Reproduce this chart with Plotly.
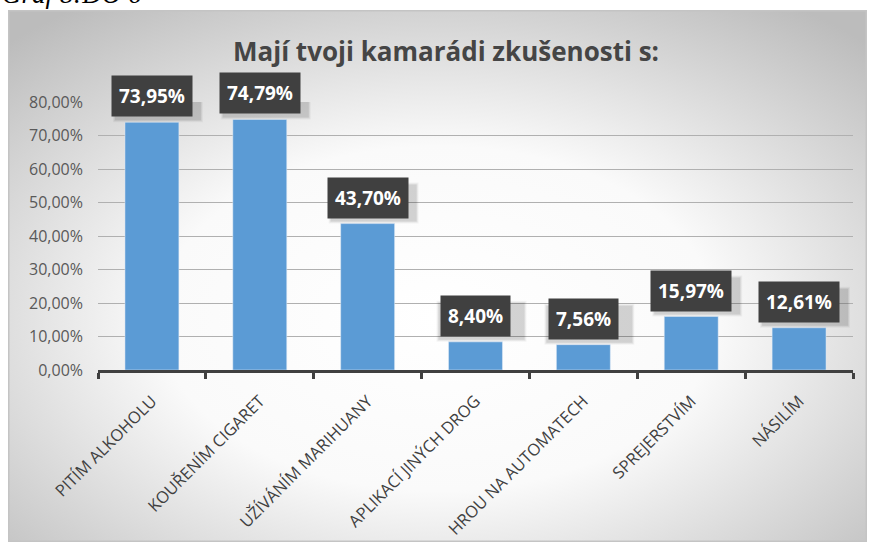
import base64
import plotly.graph_objects as go

categories = ["PITÍM ALKOHOLU", "KOUŘENÍM CIGARET", "UŽÍVÁNÍM MARIHUANY",
              "APLIKACÍ JINÝCH DROG", "HROU NA AUTOMATECH", "SPREJERSTVÍM", "NÁSILÍM"]
values = [0.7395, 0.7479, 0.4370, 0.0840, 0.0756, 0.1597, 0.1261]
labels = ["73,95%", "74,79%", "43,70%", "8,40%", "7,56%", "15,97%", "12,61%"]
y_ticks = [0, 0.1, 0.2, 0.3, 0.4, 0.5, 0.6, 0.7, 0.8]

W, H = 871, 542
L, R, T, B = 98, 18, 102, 172
pw, ph = W - L - R, H - T - B

def px_x(p):
    return (p - L) / pw

def px_y(p):
    return (H - B - p) / ph

svg = """<svg xmlns='http://www.w3.org/2000/svg' width='859' height='532' viewBox='0 0 859 532' preserveAspectRatio='none'>
<defs><radialGradient id='g' cx='50%' cy='58%' r='72%' fx='50%' fy='58%'>
<stop offset='0' stop-color='#ffffff'/><stop offset='0.45' stop-color='#fafafa'/>
<stop offset='1' stop-color='#bcbcbc'/></radialGradient></defs>
<rect x='0' y='0' width='859' height='532' fill='url(#g)' stroke='#c4c4c4' stroke-width='3'/>
</svg>"""
src = "data:image/svg+xml;base64," + base64.b64encode(svg.encode()).decode()

fig = go.Figure()
fig.add_trace(go.Bar(x=categories, y=values, marker_color="#5b9bd5", width=0.5,
                     hoverinfo="skip"))

annotations = []
shapes = []
for c, v, t in zip(categories, values, labels):
    # soft shadow behind the label box
    for k, a in ((0, 0.08), (1, 0.06), (2, 0.04)):
        shapes.append(dict(type="rect", xref="x", yref="y",
                           xsizemode="pixel", ysizemode="pixel",
                           xanchor=c, yanchor=v,
                           x0=-40 + 3 - k, x1=46 + 3 + k, y0=5 - 3 - k, y1=42 - 3 + k,
                           fillcolor="rgba(0,0,0,%.2f)" % a, line=dict(width=0),
                           layer="above"))
    annotations.append(dict(x=c, y=v, xref="x", yref="y", text="<b>" + t + "</b>",
                            showarrow=False, yanchor="bottom", yshift=5,
                            font=dict(family="Open Sans", size=19, color="white"),
                            bgcolor="#404040", borderpad=7))

annotations.append(dict(xref="paper", yref="paper", x=px_x(0), y=px_y(11),
                        xanchor="left", yanchor="bottom", showarrow=False,
                        text="<i>Graf 8:DO 6</i>",
                        font=dict(family="Liberation Serif", size=27, color="#000000")))

fig.update_layout(
    width=W, height=H,
    margin=dict(l=L, r=R, t=T, b=B),
    paper_bgcolor="white",
    plot_bgcolor="rgba(0,0,0,0)",
    separators=", ",
    showlegend=False,
    title=dict(text="<b>Mají tvoji kamarádi zkušenosti s:</b>",
               x=446 / W, xref="container", xanchor="center",
               y=1 - 52 / H, yref="container", yanchor="middle",
               font=dict(family="Open Sans", size=26, color="#454545")),
    images=[dict(source=src, xref="paper", yref="paper",
                 x=px_x(8), y=px_y(10), sizex=(867 - 8) / pw, sizey=(542 - 10) / ph,
                 xanchor="left", yanchor="top", sizing="stretch", layer="below")],
    annotations=annotations,
    shapes=shapes,
    xaxis=dict(showline=True, linecolor="#404040", linewidth=3,
               ticks="outside", tickson="boundaries", ticklen=6, tickwidth=3,
               tickcolor="#404040", tickangle=-45,
               tickfont=dict(family="Open Sans", size=16.5, color="#404040"),
               ticklabelstandoff=12,
               showgrid=False, automargin=False),
    yaxis=dict(range=[0, 0.8], tickvals=y_ticks, tickformat=".2%",
               showgrid=True, gridcolor="#b0b0b0", gridwidth=1, zeroline=False,
               tickfont=dict(family="Open Sans", size=16, color="#595959"),
               ticks="", ticklabelstandoff=14, automargin=False),
)

fig.write_html("out.html", config={"displayModeBar": False},
               post_script="document.body.style.margin='0';document.body.style.overflow='hidden';")
